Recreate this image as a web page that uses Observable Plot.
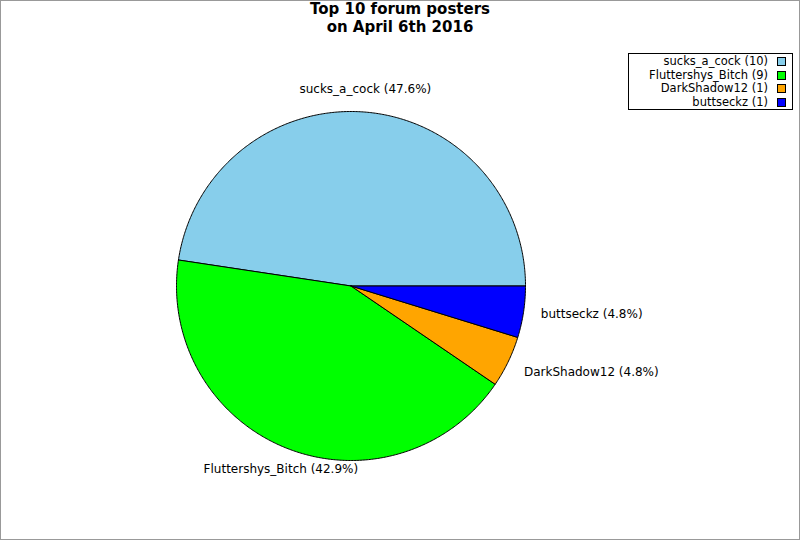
<!DOCTYPE html>
<html><head><meta charset="utf-8">
<script src="https://cdn.jsdelivr.net/npm/d3@7"></script>
<script src="https://cdn.jsdelivr.net/npm/@observablehq/plot@0.6"></script>
<style>
body{margin:0;background:#fff;font-family:"DejaVu Sans",sans-serif;}
#wrap{position:relative;width:800px;height:540px;overflow:hidden;background:#fff;}
#border{position:absolute;left:0;top:0;width:800px;height:540px;box-sizing:border-box;border:1px solid #999;pointer-events:none;}
#title{position:absolute;left:0;top:1px;width:800px;text-align:center;font-weight:bold;font-size:15px;line-height:17.5px;color:#000;}
#chart{position:absolute;left:0;top:36px;}
#legend{position:absolute;left:628px;top:53px;width:165px;height:57px;box-sizing:border-box;border:1px solid #000;padding-top:1px;font-size:11.5px;line-height:13.5px;}
.row{display:flex;justify-content:flex-end;align-items:center;height:13.5px;padding-right:6px;white-space:nowrap;}
.sw{display:inline-block;width:7px;height:7px;border:1px solid #000;margin-left:9px;}
</style></head>
<body>
<div id="wrap">
  <div id="title">Top 10 forum posters<br>on April 6th 2016</div>
  <div id="chart"></div>
  <div id="legend"></div>
  <div id="border"></div>
</div>
<script>
const names = ["sucks_a_cock", "Fluttershys_Bitch", "DarkShadow12", "buttseckz"];
const counts = [10, 9, 1, 1];
const colors = ["#87CEEB", "#00FF00", "#FFA500", "#0000FF"];

const total = d3.sum(counts);
// slices counterclockwise from 3 o'clock
const slices = [];
let acc = 0;
names.forEach((n, i) => {
  const a0 = acc / total * 2 * Math.PI;
  acc += counts[i];
  const a1 = acc / total * 2 * Math.PI;
  slices.push({name: n, count: counts[i], a0, a1, mid: (a0 + a1) / 2, pct: (counts[i] / total * 100).toFixed(1)});
});
const poly = [];
slices.forEach(s => {
  poly.push({name: s.name, x: 0, y: 0});
  const steps = Math.max(2, Math.ceil((s.a1 - s.a0) / (Math.PI / 360)));
  for (let k = 0; k <= steps; k++) {
    const a = s.a0 + (s.a1 - s.a0) * k / steps;
    poly.push({name: s.name, x: Math.cos(a), y: Math.sin(a)});
  }
  poly.push({name: s.name, x: 0, y: 0});
});

const R = 174.5, cx = 350.5, cy = 249.5, W = 800, H = 504;
const labelR = 1.1;
const labelMarks = slices.map(s => {
  const c = Math.cos(s.mid), sn = Math.sin(s.mid);
  const textAnchor = c > 0.5 ? "start" : c < -0.5 ? "end" : "middle";
  const lineAnchor = sn > 0.5 ? "bottom" : sn < -0.5 ? "top" : "middle";
  return Plot.text([s], {
    x: d => labelR * Math.cos(d.mid), y: d => labelR * Math.sin(d.mid),
    text: d => `${d.name} (${d.pct}%)`, textAnchor, lineAnchor,
    fontSize: 12, fill: "#000", dy: sn > 0.5 ? -2 : (Math.abs(sn) <= 0.5 && sn < -0.3 ? 3 : 0)
  });
});

const chart = Plot.plot({
  width: W, height: H,
  marginTop: 0, marginBottom: 0, marginLeft: 0, marginRight: 0,
  style: {fontFamily: "DejaVu Sans, sans-serif", background: "transparent", overflow: "visible"},
  x: {domain: [-cx / R, (W - cx) / R], axis: null},
  y: {domain: [-(H - cy) / R, cy / R], axis: null},
  color: {domain: names, range: colors},
  marks: [
    Plot.line(poly, {x: "x", y: "y", z: "name", fill: "name", stroke: "#000", strokeWidth: 1, curve: "linear"}),
    ...labelMarks
  ]
});
document.getElementById("chart").appendChild(chart);

const legend = d3.select("#legend");
names.forEach((n, i) => {
  const row = legend.append("div").attr("class", "row");
  row.append("span").text(`${n} (${counts[i]})`);
  row.append("span").attr("class", "sw").style("background", colors[i]);
});
</script>
</body></html>
